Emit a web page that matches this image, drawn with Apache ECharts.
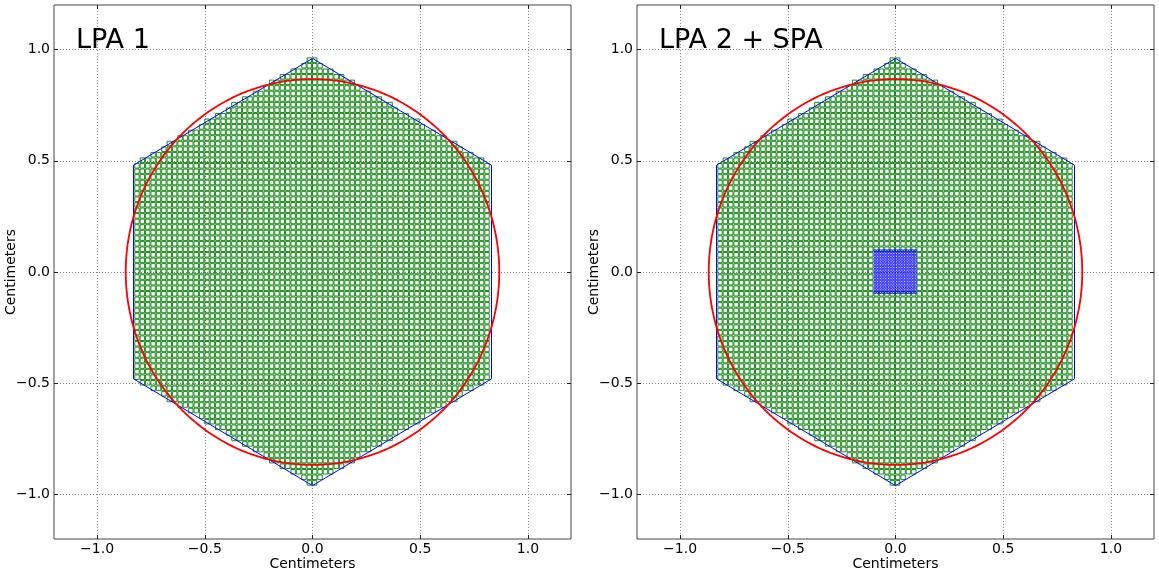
<!DOCTYPE html>
<html>
<head>
<meta charset="utf-8">
<script src="https://cdn.jsdelivr.net/npm/echarts@6/dist/echarts.min.js"></script>
<style>html,body{margin:0;padding:0;background:#fff}#c{width:1159px;height:575px}</style>
</head>
<body>
<div id="c"></div>
<script>
// ---- data ----
const panelTitles = ['LPA 1', 'LPA 2 + SPA'];
const tickValues = [-1.0, -0.5, 0.0, 0.5, 1.0];
const axisRange = [-1.2, 1.2];
const hexX = [0, 0.831, 0.831, 0, -0.831, -0.831, 0];
const hexY = [0.96, 0.48, -0.48, -0.96, -0.48, 0.48, 0.96];
const circleRadius = 0.867;
const lpaPitch = 0.025;          // large pixel size (cm)
const lpaColumnEdges = [-0.825, 0.825];
const spaPitch = 0.0125;         // small pixel size (cm)
const spaExtent = [-0.1, 0.1];

// ---- build pixel cells from the hexagon geometry ----
function insideHex(x, y) {
  const ax = Math.abs(x), ay = Math.abs(y);
  if (ax > hexX[1]) return false;
  return ay <= hexY[0] - ax * (hexY[0] - hexY[1]) / hexX[1];
}
function lpaCells(excludeSpa) {
  const out = [];
  const nCol = Math.round((lpaColumnEdges[1] - lpaColumnEdges[0]) / lpaPitch);
  const nRow = Math.round(2 * hexY[0] / lpaPitch) + 2;
  for (let i = 0; i < nCol; i++) {
    const cx = lpaColumnEdges[0] + (i + 0.5) * lpaPitch;
    for (let j = -nRow / 2; j < nRow / 2; j++) {
      const cy = (j + 0.5) * lpaPitch;
      if (!insideHex(cx, cy)) continue;
      if (excludeSpa && cx > spaExtent[0] && cx < spaExtent[1] && cy > spaExtent[0] && cy < spaExtent[1]) continue;
      out.push([cx, cy]);
    }
  }
  return out;
}
function spaCells() {
  const out = [];
  const n = Math.round((spaExtent[1] - spaExtent[0]) / spaPitch);
  for (let i = 0; i < n; i++) for (let j = 0; j < n; j++)
    out.push([spaExtent[0] + (i + 0.5) * spaPitch, spaExtent[0] + (j + 0.5) * spaPitch]);
  return out;
}
const hexData = hexX.map((x, i) => [x, hexY[i]]);

const FONT = 'DejaVu Sans';
const fmt = v => (v < 0 ? '\u2212' : '') + Math.abs(v).toFixed(1);

function cellRender(pitch, stroke, fill, lw, gap) {
  return function (params, api) {
    const p = api.coord([api.value(0), api.value(1)]);
    const s = api.size([pitch, pitch]);
    return {
      type: 'rect',
      shape: { x: p[0] - s[0] / 2, y: p[1] - s[1] / 2, width: s[0] - gap, height: s[1] - gap },
      style: { stroke: stroke, fill: fill, lineWidth: lw }
    };
  };
}
function circleRender(params, api) {
  const r = api.value(2);
  const pts = [];
  for (let k = 0; k <= 360; k++) {
    const a = k * Math.PI / 180;
    pts.push(api.coord([api.value(0) + r * Math.cos(a), api.value(1) + r * Math.sin(a)]));
  }
  return { type: 'polyline', shape: { points: pts }, style: { stroke: '#ff0000', lineWidth: 1.8, fill: null } };
}

const grids = [
  { left: 54, top: 5, width: 517, height: 534, show: true, borderColor: '#444', borderWidth: 1, backgroundColor: 'transparent', outerBoundsMode: 'none', containLabel: false },
  { left: 637, top: 5, width: 517, height: 534, show: true, borderColor: '#444', borderWidth: 1, backgroundColor: 'transparent', outerBoundsMode: 'none', containLabel: false }
];
const tickStyle = { show: true, inside: true, length: 4, customValues: tickValues, lineStyle: { color: '#222' } };
const xAxes = [], yAxes = [];
[0, 1].forEach(g => {
  xAxes.push({
    gridIndex: g, type: 'value', min: axisRange[0], max: axisRange[1],
    axisLine: { show: false, onZero: false },
    axisTick: tickStyle,
    axisLabel: { customValues: tickValues, formatter: fmt, fontSize: 14, fontFamily: FONT, color: '#000', margin: 3 },
    splitLine: { show: true, lineStyle: { type: [1, 2], color: '#888', width: 1 } },
    name: 'Centimeters', nameLocation: 'middle', nameGap: 18, nameMoveOverlap: false,
    nameTextStyle: { fontSize: 14, fontFamily: FONT, color: '#000' }
  });
  xAxes.push({
    gridIndex: g, type: 'value', position: 'top', min: axisRange[0], max: axisRange[1],
    axisLine: { show: false, onZero: false },
    axisTick: tickStyle,
    axisLabel: { show: false }, splitLine: { show: false }
  });
  yAxes.push({
    gridIndex: g, type: 'value', min: axisRange[0], max: axisRange[1],
    axisLine: { show: false, onZero: false },
    axisTick: tickStyle,
    axisLabel: { customValues: tickValues, formatter: fmt, fontSize: 14, fontFamily: FONT, color: '#000', margin: 4 },
    splitLine: { show: true, lineStyle: { type: [1, 2], color: '#888', width: 1 } },
    name: 'Centimeters', nameLocation: 'middle', nameGap: 36, nameMoveOverlap: false,
    nameTextStyle: { fontSize: 14, fontFamily: FONT, color: '#000' }
  });
  yAxes.push({
    gridIndex: g, type: 'value', position: 'right', min: axisRange[0], max: axisRange[1],
    axisLine: { show: false, onZero: false },
    axisTick: tickStyle,
    axisLabel: { show: false }, splitLine: { show: false }
  });
});

const series = [];
[0, 1].forEach(g => {
  const xi = g * 2, yi = g * 2;
  series.push({
    type: 'custom', xAxisIndex: xi, yAxisIndex: yi, clip: true, progressive: 0,
    renderItem: cellRender(lpaPitch, 'rgba(0,128,0,0.88)', null, 1, 1),
    encode: { x: 0, y: 1 }, data: lpaCells(g === 1), z: 2
  });
  series.push({
    type: 'line', xAxisIndex: xi, yAxisIndex: yi, data: hexData, symbol: 'none',
    lineStyle: { color: '#0000ff', width: 1 }, z: 3, silent: true
  });
  series.push({
    type: 'custom', xAxisIndex: xi, yAxisIndex: yi, clip: true,
    renderItem: circleRender, encode: { x: 0, y: 1 }, data: [[0, 0, circleRadius]], z: 4
  });
  if (g === 1) {
    series.push({
      type: 'custom', xAxisIndex: xi, yAxisIndex: yi, clip: true, progressive: 0,
      renderItem: cellRender(spaPitch, 'rgba(0,0,255,0.9)', 'rgba(0,0,255,0.1)', 0.8, 0.7),
      encode: { x: 0, y: 1 }, data: spaCells(), z: 5
    });
  }
});

const chart = echarts.init(document.getElementById('c'), null, { renderer: 'canvas' });
chart.setOption({
  animation: false,
  backgroundColor: '#fff',
  title: panelTitles.map((t, i) => ({
    text: t, left: i === 0 ? 76 : 659, top: 27, padding: 0,
    textStyle: { fontSize: 27, fontWeight: 'normal', fontFamily: FONT, color: '#000' }
  })),
  grid: grids, xAxis: xAxes, yAxis: yAxes, series: series
});
</script>
</body>
</html>
